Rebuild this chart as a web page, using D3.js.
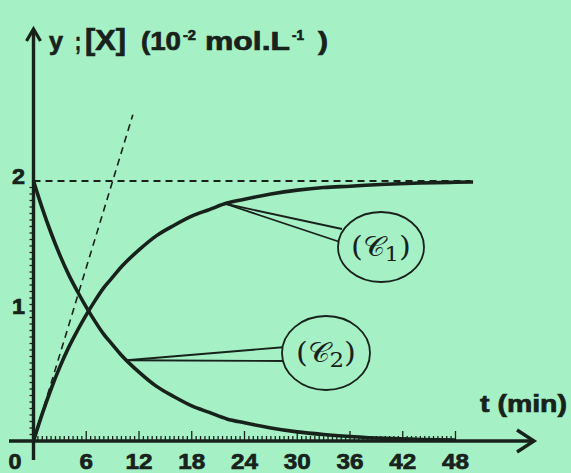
<!DOCTYPE html>
<html>
<head>
<meta charset="utf-8">
<script src="https://cdn.jsdelivr.net/npm/d3@7"></script>
<style>
  body { margin: 0; background: #a6f0c6; }
  svg { display: block; }
  text.lbl { font-family: "Liberation Sans", Arial, sans-serif; font-weight: bold; fill: #17221b; stroke: #17221b; stroke-width: 0.7px; }
</style>
</head>
<body>
<script>
// values (t in min, y and [X] in 10^-2 mol/L)
var tC1 = [0, 1, 2, 3, 4, 5, 6, 7, 8, 9, 10, 12, 14, 16, 18, 20, 22, 24, 27, 30, 33, 36, 40, 44, 48, 50];
var yC1 = [0, 0.21, 0.40, 0.57, 0.72, 0.85, 0.97, 1.08, 1.18, 1.26, 1.34, 1.47, 1.58, 1.66, 1.73, 1.78, 1.83, 1.86, 1.90, 1.93, 1.95, 1.96, 1.975, 1.985, 1.99, 1.992];
var tC2 = [0, 1, 2, 3, 4, 5, 6, 7, 8, 9, 10, 12, 14, 16, 18, 20, 22, 24, 27, 30, 33, 36, 40, 44, 48];
var yC2 = [2, 1.79, 1.60, 1.43, 1.28, 1.15, 1.03, 0.92, 0.82, 0.74, 0.66, 0.53, 0.42, 0.34, 0.27, 0.22, 0.17, 0.14, 0.10, 0.07, 0.05, 0.035, 0.02, 0.012, 0.008];
var tangentT = [0, 11.3];
var tangentY = [0, 2.51];
var asymT = [0, 49.7];
var asymY = [2, 2];
var xTicks = [6, 12, 18, 24, 30, 36, 42, 48];
var yTicks = [1, 2];
var c1Anchor = 21.8;   // where the (C1) callout touches the curve
var c2Anchor = 10.6;   // where the (C2) callout touches the curve

var W = 571, H = 473;
var ink = "#17221b";
var bg = "#a6f0c6";

var svg = d3.select("body").append("svg").attr("width", W).attr("height", H);

var x = d3.scaleLinear().domain([0, 48]).range([33.5, 455.5]);
var y = d3.scaleLinear().domain([0, 2]).range([441, 181]);

function pts(ts, ys) { return ts.map(function (t, i) { return [t, ys[i]]; }); }
function lookup(ts, ys, t) {
  for (var i = 1; i < ts.length; i++) {
    if (t <= ts[i]) {
      var f = (t - ts[i - 1]) / (ts[i] - ts[i - 1]);
      return ys[i - 1] + f * (ys[i] - ys[i - 1]);
    }
  }
  return ys[ys.length - 1];
}

var line = d3.line()
  .x(function (d) { return x(d[0]); })
  .y(function (d) { return y(d[1]); })
  .curve(d3.curveMonotoneX);
var straight = d3.line()
  .x(function (d) { return x(d[0]); })
  .y(function (d) { return y(d[1]); });

// minor ticks on x axis (every 0.5 min)
svg.append("g").selectAll("line")
  .data(d3.range(0.5, 48.01, 0.5))
  .enter().append("line")
  .attr("x1", function (d) { return x(d); }).attr("x2", function (d) { return x(d); })
  .attr("y1", y(0)).attr("y2", function (d) { return d % 6 === 0 ? y(0) - 10 : y(0) - 5; })
  .attr("stroke", ink).attr("stroke-width", 1.3);

// minor ticks on y axis
svg.append("g").selectAll("line")
  .data(d3.range(0.05, 2.0, 0.05))
  .enter().append("line")
  .attr("x1", x(0) - 4).attr("x2", x(0))
  .attr("y1", function (d) { return y(d); }).attr("y2", function (d) { return y(d); })
  .attr("stroke", ink).attr("stroke-width", 1.3);

// axes
svg.append("line").attr("x1", 9).attr("x2", 534).attr("y1", y(0)).attr("y2", y(0))
  .attr("stroke", ink).attr("stroke-width", 3.4);
svg.append("path").attr("d", "M517,430 L534,441 L517,452")
  .attr("fill", "none").attr("stroke", ink).attr("stroke-width", 3.4);
svg.append("line").attr("x1", x(0)).attr("x2", x(0)).attr("y1", 460).attr("y2", 30)
  .attr("stroke", ink).attr("stroke-width", 3.4);
svg.append("path").attr("d", "M" + (x(0) - 7) + ",41 L" + x(0) + ",29 L" + (x(0) + 7) + ",41")
  .attr("fill", "none").attr("stroke", ink).attr("stroke-width", 3.2);

// dashed helpers
svg.append("path").datum(pts(asymT, asymY)).attr("d", straight)
  .attr("fill", "none").attr("stroke", ink).attr("stroke-width", 1.8).attr("stroke-dasharray", "7,5");
svg.append("path").datum(pts(tangentT, tangentY)).attr("d", straight)
  .attr("fill", "none").attr("stroke", ink).attr("stroke-width", 1.6).attr("stroke-dasharray", "7,5");

// curves
svg.append("path").datum(pts(tC1, yC1)).attr("d", line)
  .attr("fill", "none").attr("stroke", ink).attr("stroke-width", 3.6);
svg.append("path").datum(pts(tC2, yC2)).attr("d", line)
  .attr("fill", "none").attr("stroke", ink).attr("stroke-width", 3.6);

// tick labels (stretched to the wide bold face of the original)
svg.append("g").selectAll("text").data(xTicks).enter().append("text")
  .attr("class", "lbl")
  .attr("x", function (d) { return x(d); }).attr("y", 469)
  .attr("text-anchor", "middle").style("font-size", "22px")
  .attr("textLength", function (d) { return String(d).length * 13.5; })
  .attr("lengthAdjust", "spacingAndGlyphs")
  .text(function (d) { return d; });
svg.append("text").attr("class", "lbl").attr("x", 15).attr("y", 469).attr("text-anchor", "middle")
  .style("font-size", "22px").attr("textLength", 13).attr("lengthAdjust", "spacingAndGlyphs").text("0");
svg.append("g").selectAll("text").data(yTicks).enter().append("text")
  .attr("class", "lbl")
  .attr("x", 12).attr("y", function (d) { return y(d) + 3; })
  .style("font-size", "22px")
  .attr("textLength", 13).attr("lengthAdjust", "spacingAndGlyphs")
  .text(function (d) { return d; });

// axis title, pieces placed and stretched to follow the original
var titleParts = [
  { s: "y", x: 49, w: 14, sup: false },
  { s: ";", x: 75, w: 6, sup: false },
  { s: "[X]", x: 85, w: 41, sup: false },
  { s: "(10", x: 141, w: 40, sup: false },
  { s: "-2", x: 183, w: 13, sup: true },
  { s: "mol.L", x: 205, w: 85, sup: false },
  { s: "-1", x: 292, w: 12, sup: true },
  { s: ")", x: 318, w: 10, sup: false }
];
svg.append("g").selectAll("text").data(titleParts).enter().append("text")
  .attr("class", "lbl")
  .attr("x", function (d) { return d.x; })
  .attr("y", function (d) { return d.sup ? 40 : 50; })
  .style("font-size", function (d) {
    if (d.sup) return "14px";
    return d.s === "[X]" ? "29px" : "25px";
  })
  .attr("textLength", function (d) { return d.w; })
  .attr("lengthAdjust", "spacingAndGlyphs")
  .text(function (d) { return d.s; });

svg.append("text").attr("class", "lbl").attr("x", 480).attr("y", 412)
  .style("font-size", "24px").attr("textLength", 87).attr("lengthAdjust", "spacingAndGlyphs")
  .text("t (min)");

// callouts
function callout(t, ts, ys, cx, cy, rx, ry, end1, end2, sub) {
  var ax = x(t), ay = y(lookup(ts, ys, t));
  var g = svg.append("g");
  [end1, end2].forEach(function (e) {
    g.append("line").attr("x1", ax).attr("y1", ay).attr("x2", e[0]).attr("y2", e[1])
      .attr("stroke", ink).attr("stroke-width", 1.8);
  });
  g.append("ellipse").attr("cx", cx).attr("cy", cy).attr("rx", rx).attr("ry", ry)
    .attr("fill", bg).attr("stroke", ink).attr("stroke-width", 1.8);
  var lab = g.append("text").attr("x", cx - 30).attr("y", cy + 9)
    .attr("textLength", 60).attr("lengthAdjust", "spacingAndGlyphs")
    .style("font-family", "'DejaVu Serif', 'Liberation Serif', serif")
    .style("fill", ink).style("font-size", "28px");
  lab.append("tspan").text("(");
  lab.append("tspan").text("\uD835\uDC9E");
  lab.append("tspan").attr("dy", 5).style("font-size", "21px").text(sub);
  lab.append("tspan").attr("dy", -5).text(")");
}
callout(c1Anchor, tC1, yC1, 381, 247, 43, 35, [342, 229], [340, 242], "1");
callout(c2Anchor, tC2, yC2, 326, 353, 44, 37, [286, 347], [286, 361], "2");
</script>
</body>
</html>
